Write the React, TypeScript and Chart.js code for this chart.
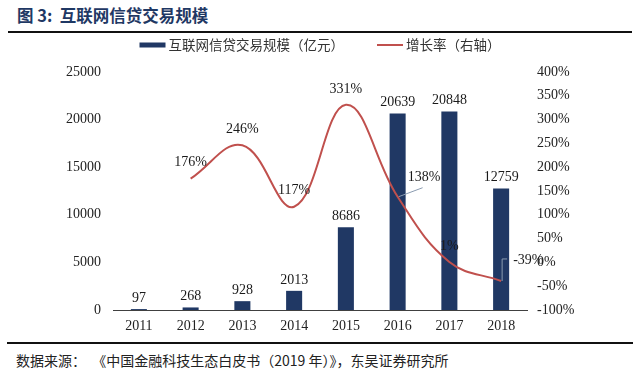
import React, { useEffect, useRef } from "react";
import { Chart, registerables } from "chart.js";

Chart.register(...registerables);

const years = ["2011", "2012", "2013", "2014", "2015", "2016", "2017", "2018"];
const volume = [97, 268, 928, 2013, 8686, 20639, 20848, 12759];
const growth: (number | null)[] = [null, 176, 246, 117, 331, 138, 1, -39];
const volumeLabel = "互联网信贷交易规模（亿元）";
const growthLabel = "增长率（右轴）";
const titleText = "图 3:  互联网信贷交易规模";
const sourceText = "数据来源：  《中国金融科技生态白皮书（2019 年）》，东吴证券研究所";

const BAR_COLOR = "#203864";
const LINE_COLOR = "#C0504D";
const SERIF = "'Liberation Serif', 'Times New Roman', serif";
const NUM_FONT = "14px " + SERIF;
const CJK_FONT = "'Noto Sans CJK SC', 'Noto Sans', sans-serif";

// label placement for growth labels: 'above' | 'leaderRight' | 'leaderUp'
const growthLabelMode = ["above", "above", "above", "above", "above", "leaderRight", "above", "leaderUp"];

const labelPlugin = {
  id: "dataLabels",
  afterDatasetsDraw(chart: any) {
    const ctx = chart.ctx;
    ctx.save();
    ctx.font = NUM_FONT;
    ctx.fillStyle = "#1a1a1a";
    const barMeta = chart.getDatasetMeta(0);
    barMeta.data.forEach((el: any, i: number) => {
      ctx.textAlign = "center";
      ctx.textBaseline = "bottom";
      ctx.fillText(String(volume[i]), el.x, el.y - 4);
    });
    const lineMeta = chart.getDatasetMeta(1);
    lineMeta.data.forEach((el: any, i: number) => {
      const v = growth[i];
      if (v === null || v === undefined) return;
      const txt = v + "%";
      const mode = growthLabelMode[i];
      if (mode === "leaderRight") {
        ctx.strokeStyle = "#8a9bb0";
        ctx.lineWidth = 1;
        ctx.beginPath();
        ctx.moveTo(el.x + 1, el.y);
        ctx.lineTo(el.x + 25, el.y - 9);
        ctx.stroke();
        ctx.textAlign = "left";
        ctx.textBaseline = "middle";
        ctx.fillText(txt, el.x + 10, el.y - 19);
      } else if (mode === "leaderUp") {
        ctx.strokeStyle = "#8a9bb0";
        ctx.lineWidth = 1;
        ctx.beginPath();
        ctx.moveTo(el.x + 1, el.y);
        ctx.lineTo(el.x + 1, el.y - 22);
        ctx.lineTo(el.x + 6, el.y - 22);
        ctx.stroke();
        ctx.textAlign = "left";
        ctx.textBaseline = "middle";
        ctx.fillText(txt, el.x + 12, el.y - 21);
      } else {
        ctx.textAlign = "center";
        ctx.textBaseline = "middle";
        ctx.fillText(txt, el.x, el.y - 16);
      }
    });
    ctx.restore();
  },
};

const legendPlugin = {
  id: "customLegend",
  afterDraw(chart: any) {
    const ctx = chart.ctx;
    ctx.save();
    ctx.font = "13.5px " + CJK_FONT;
    const ds = chart.data.datasets;
    const boxW = 26;
    const gapText = 3;
    const gapItems = 33;
    const w0 = ctx.measureText(ds[0].label).width;
    const w1 = ctx.measureText(ds[1].label).width;
    const total = boxW + gapText + w0 + gapItems + boxW + gapText + w1;
    let x = chart.width / 2 - total / 2;
    const y = 11;
    ctx.fillStyle = ds[0].backgroundColor;
    ctx.fillRect(x, y - 2.5, boxW, 5);
    x += boxW + gapText;
    ctx.fillStyle = "#333";
    ctx.textAlign = "left";
    ctx.textBaseline = "middle";
    ctx.fillText(ds[0].label, x, y);
    x += w0 + gapItems;
    ctx.strokeStyle = ds[1].borderColor;
    ctx.lineWidth = 2;
    ctx.beginPath();
    ctx.moveTo(x, y);
    ctx.lineTo(x + boxW, y);
    ctx.stroke();
    x += boxW + gapText;
    ctx.fillStyle = "#333";
    ctx.fillText(ds[1].label, x, y);
    ctx.restore();
  },
};

function ChartCanvas() {
  const ref = useRef<HTMLCanvasElement | null>(null);
  useEffect(() => {
    if (!ref.current) return;
    const tickFont = { family: SERIF, size: 14 };
    const chart = new Chart(ref.current, {
      type: "bar",
      data: {
        labels: years,
        datasets: [
          {
            type: "bar",
            label: volumeLabel,
            data: volume,
            backgroundColor: BAR_COLOR,
            yAxisID: "y",
            barPercentage: 0.31,
            categoryPercentage: 1,
            order: 2,
          } as any,
          {
            type: "line",
            label: growthLabel,
            data: growth,
            borderColor: LINE_COLOR,
            backgroundColor: LINE_COLOR,
            borderWidth: 2,
            pointRadius: 0,
            tension: 0.4,
            yAxisID: "y1",
            order: 1,
          } as any,
        ],
      },
      options: {
        responsive: false,
        animation: false,
        layout: { padding: { top: 38, left: 0, right: 0, bottom: 0 } },
        plugins: {
          legend: { display: false },
          tooltip: { enabled: false },
        },
        scales: {
          x: {
            grid: { display: false, drawTicks: false },
            border: { display: true, color: "#404040", width: 1 },
            ticks: { font: tickFont, color: "#222", padding: 8 },
            afterFit: (s: any) => {
              s.height = 30;
            },
          },
          y: {
            position: "left",
            min: 0,
            max: 25000,
            grid: { display: false, drawTicks: false },
            border: { display: false },
            ticks: {
              stepSize: 5000,
              font: tickFont,
              color: "#222",
              padding: 12,
              callback: (v: any) => String(v),
            },
            afterFit: (s: any) => {
              s.width = 113;
            },
          },
          y1: {
            position: "right",
            min: -100,
            max: 400,
            grid: { display: false, drawTicks: false },
            border: { display: false },
            ticks: {
              stepSize: 50,
              font: tickFont,
              color: "#222",
              padding: 10,
              callback: (v: any) => v + "%",
            },
            afterFit: (s: any) => {
              s.width = 113;
            },
          },
        },
      },
      plugins: [labelPlugin, legendPlugin],
    });
    return () => chart.destroy();
  }, []);
  return <canvas ref={ref} width={640} height={306} style={{ display: "block" }} />;
}

export default function App() {
  return (
    <div
      style={{
        position: "fixed",
        left: 0,
        top: 0,
        width: 640,
        height: 379,
        background: "#fff",
        overflow: "hidden",
      }}
    >
      <div
        style={{
          position: "absolute",
          left: 17,
          top: 4,
          fontFamily: CJK_FONT,
          fontWeight: 700,
          fontSize: 16.5,
          color: "#1F3864",
          whiteSpace: "pre",
          lineHeight: "22px",
        }}
      >
        {titleText}
      </div>
      <div style={{ position: "absolute", left: 8, top: 31, width: 624, height: 2, background: "#111" }} />
      <div style={{ position: "absolute", left: 0, top: 34, width: 640, height: 306 }}>
        <ChartCanvas />
      </div>
      <div style={{ position: "absolute", left: 7, top: 342, width: 626, height: 2, background: "#111" }} />
      <div
        style={{
          position: "absolute",
          left: 16,
          top: 350,
          fontFamily: CJK_FONT,
          fontSize: 14,
          color: "#222",
          whiteSpace: "pre",
          lineHeight: "20px",
        }}
      >
        {sourceText}
      </div>
    </div>
  );
}
